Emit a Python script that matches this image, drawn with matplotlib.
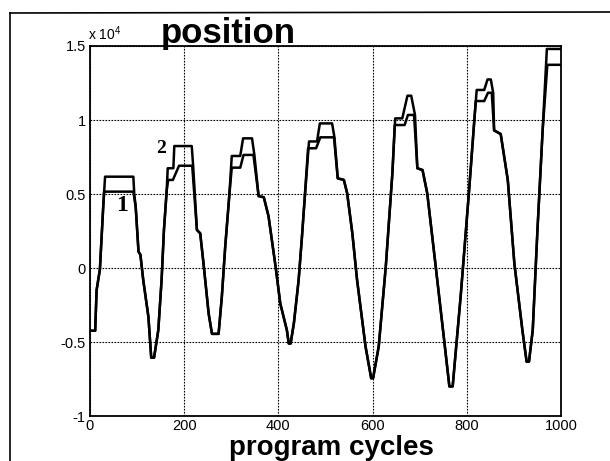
import matplotlib
matplotlib.use("Agg")
import matplotlib.pyplot as plt
from matplotlib.lines import Line2D
from matplotlib.ticker import FuncFormatter

plt.rcParams['font.family'] = ['Liberation Sans', 'DejaVu Sans']
plt.rcParams['mathtext.fontset'] = 'custom'
plt.rcParams['mathtext.rm'] = 'Liberation Sans'

# curve 1 (lower plateaus)
cycles_1 = [0, 11, 14, 21, 28, 30, 92, 97, 103, 107, 113, 124, 130, 136, 145, 152, 157, 163,
            166, 176, 189, 217, 227, 234, 241, 252, 259, 273, 280, 287, 296, 301, 319, 326,
            347, 358, 369, 379, 394, 404, 418, 422, 426, 433, 443, 450, 454, 463, 480, 489,
            518, 526, 539, 546, 557, 567, 585, 597, 601, 613, 628, 642, 647, 668, 675, 688,
            695, 706, 716, 734, 752, 763, 770, 787, 805, 816, 819, 837, 845, 853, 858, 872,
            887, 901, 918, 927, 932, 940, 950, 961, 971, 1000]
pos_1 = [-4240, -4240, -1500, -100, 4100, 5160, 5160, 4140, 1100, 900, -800, -3300, -6060,
         -6060, -4200, -800, 2570, 5300, 5950, 5950, 6910, 6910, 2570, 2340, 300, -3100,
         -4450, -4450, -1900, 1400, 5000, 6780, 6780, 7640, 7640, 4860, 4780, 3500, 100,
         -2400, -4200, -5100, -5100, -3700, -800, 2100, 3900, 8090, 8090, 8830, 8830, 6060,
         5950, 5050, 2340, -800, -5300, -7450, -7450, -5300, 100, 6400, 9660, 9660, 10340,
         10340, 6740, 6620, 5050, 100, -4900, -8000, -8000, -1900, 5300, 10000, 11280,
         11280, 11840, 11840, 9300, 9050, 5950, 300, -4200, -6330, -6330, -4200, 2570, 9300,
         13730, 13730]

# curve 2 (higher plateaus)
cycles_2 = [0, 11, 14, 21, 28, 32, 92, 94, 97, 103, 107, 113, 124, 130, 136, 145, 152, 157,
            163, 165, 177, 179, 216, 219, 227, 234, 241, 252, 259, 273, 280, 287, 296, 301,
            319, 325, 344, 349, 358, 369, 379, 394, 404, 418, 422, 426, 433, 443, 450, 454,
            465, 482, 488, 514, 519, 526, 539, 546, 557, 567, 585, 597, 601, 613, 628, 642,
            648, 663, 674, 682, 690, 695, 706, 716, 734, 752, 763, 770, 787, 805, 816, 821,
            837, 844, 851, 856, 858, 872, 887, 901, 918, 927, 932, 940, 950, 961, 970, 1000]
pos_2 = [-4240, -4240, -1500, -100, 4100, 6170, 6170, 5000, 4140, 1100, 900, -800, -3300,
         -6060, -6060, -4200, -800, 2570, 5300, 6740, 6740, 8240, 8240, 6910, 2570, 2340, 300,
         -3100, -4450, -4450, -1900, 1400, 5000, 7570, 7570, 8760, 8760, 7640, 4860, 4780,
         3500, 100, -2400, -4200, -5100, -5100, -3700, -800, 2100, 3900, 8550, 8550, 9770,
         9770, 8830, 6060, 5950, 5050, 2340, -800, -5300, -7450, -7450, -5300, 100, 6400,
         10110, 10110, 11640, 11640, 10340, 6740, 6620, 5050, 100, -4900, -8000, -8000,
         -1900, 5300, 10000, 12030, 12030, 12740, 12740, 11840, 9300, 9050, 5950, 300, -4200,
         -6330, -6330, -4200, 2570, 9300, 14800, 14800]

x_ticks = [0, 200, 400, 600, 800, 1000]
y_ticks = [-10000, -5000, 0, 5000, 10000, 15000]

fig = plt.figure(figsize=(6.1, 4.61), dpi=100)
ax = fig.add_axes([90 / 610, 45 / 461, 471 / 610, 370 / 461])

ax.plot(cycles_2, pos_2, color='black', lw=1.8)
ax.plot(cycles_1, pos_1, color='black', lw=1.8)

ax.set_xlim(0, 1000)
ax.set_ylim(-10000, 15000)
ax.set_xticks(x_ticks)
ax.set_yticks(y_ticks)
ax.yaxis.set_major_formatter(FuncFormatter(lambda v, p: '%g' % (v / 1e4)))
ax.tick_params(length=0, labelsize=10.5)
ax.tick_params(axis='x', pad=2)
ax.tick_params(axis='y', pad=3)
ax.grid(True, color='black', linestyle=(0, (1.5, 1.2)), lw=0.8)
for s in ax.spines.values():
    s.set_linewidth(1.3)

ax.text(68, 4190, '1', family='Liberation Serif', weight='bold', fontsize=17,
        ha='center', va='center')
ax.text(151, 8100, '2', family='Liberation Serif', weight='bold', fontsize=14,
        ha='center', va='center')

fig.text(88 / 610, 1 - 40 / 461, r'x 10$^4$', fontsize=10, va='baseline')
fig.text(228 / 610, 1 - 43 / 461, 'position', fontsize=25, weight='bold',
         ha='center', va='baseline')
fig.text(331 / 610, 1 - 455 / 461, 'program cycles', fontsize=20, weight='bold',
         ha='center', va='baseline')

# outer frame (top and left only)
fig.add_artist(Line2D([10 / 610, 1], [1 - 13 / 461, 1 - 12 / 461], color='black', lw=1.2))
fig.add_artist(Line2D([10 / 610, 10 / 610], [0, 1 - 13 / 461], color='black', lw=1.2))

fig.savefig('out.png', dpi=100)
